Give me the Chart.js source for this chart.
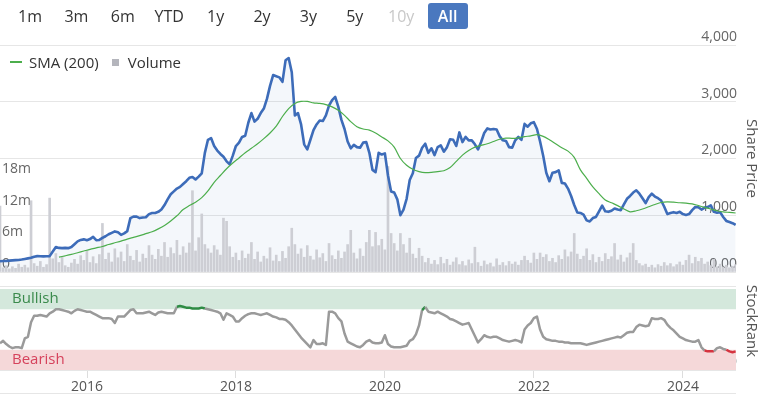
<!DOCTYPE html>
<html>
<head>
<meta charset="utf-8">
<script src="https://cdn.jsdelivr.net/npm/chart.js@4.4.1/dist/chart.umd.min.js"></script>
<style>
  body { margin: 0; background: #fff; font-family: "Open Sans", sans-serif; }
  #wrap { position: relative; width: 763px; height: 395px; overflow: hidden; }
  #chart { position: absolute; left: 0; top: 0; }
  .btn { position: absolute; top: 3px; width: 40px; height: 26px; line-height: 26px;
         text-align: center; font-size: 16px; color: #333; border-radius: 3px; }
  .btn.off { color: #c8c8c8; }
  .btn.on { background: #4a78bf; color: #fff; font-weight: 600; }
  #baseline { position: absolute; left: 0; top: 393px; width: 736px; height: 1px; background: #e6e6e6; }
  #legend { position: absolute; left: 10px; top: 50px; font-size: 15px; color: #333; white-space: nowrap; }
  #legend span { display: inline-block; vertical-align: middle; }
  .lg-line { width: 12px; height: 1.5px; background: #4cae4c; margin-right: 7px; }
  .lg-box { width: 7px; height: 7px; background: #b4b5bc; margin: 2px 9px 0 13px; }
</style>
</head>
<body>
<div id="wrap">
  <canvas id="chart" width="763" height="395"></canvas>
  <div id="baseline"></div>
  <div id="legend"><span class="lg-line"></span><span>SMA (200)</span><span class="lg-box"></span><span>Volume</span></div>
</div>
<script>
/*---------------------------------
   DATA
 ----------------------------------*/
// one point every half month, starting Nov 2014
var startYear = 2014.832;
var xTicks = [2016, 2018, 2020, 2022, 2024];
var priceTicks = [0, 1000, 2000, 3000, 4000];
var volumeTicks = [0, 6, 12, 18];   // millions
var bullishBand = [75, 100];
var bearishBand = [0, 25];
var rangeButtons = ['1m', '3m', '6m', 'YTD', '1y', '2y', '3y', '5y', '10y', 'All'];

var priceValues = [
  190,195,195,200,205,210,212,220,230,240,
  250,270,280,278,275,278,280,360,440,425,
  420,425,420,440,490,540,565,575,560,580,
  620,560,565,600,630,665,690,715,700,655,
  680,720,950,975,975,950,960,965,1020,1040,
  1040,1060,1100,1180,1280,1370,1420,1470,1500,1550,
  1600,1660,1675,1630,1680,1740,2100,2330,2360,2220,
  2140,2080,2030,1950,1900,2050,2220,2280,2380,2400,
  2630,2800,2650,2700,2800,2880,3050,3280,3470,3450,
  3430,3350,3730,3770,3520,2760,2800,2600,2250,2160,
  2330,2500,2600,2670,2660,2760,2930,3030,3085,2910,
  2680,2520,2300,2180,2240,2200,2190,2280,2290,2100,
  1800,1760,2100,2070,2090,1700,1420,1400,1280,1000,
  1100,1290,1620,1740,2010,2050,2190,2260,2100,2180,
  2060,2200,2230,2120,2200,2340,2330,2220,2460,2290,
  2380,2320,2320,2250,2160,2290,2450,2530,2510,2520,
  2510,2390,2320,2310,2200,2190,2320,2380,2330,2610,
  2560,2620,2640,2520,2300,2050,1750,1600,1750,1760,
  1790,1570,1560,1470,1340,1180,1050,1040,1010,910,
  890,950,970,1070,1170,1070,1060,1080,1120,1100,
  1090,1190,1290,1340,1400,1440,1380,1300,1215,1320,
  1380,1330,1300,1260,1150,1020,1040,1055,1040,1060,
  1020,1005,1020,1090,1145,1140,1100,1135,1145,1175,
  1060,1045,1055,970,900,880,860,830
];

// SMA (200): monthly, first value at half-month index 19
var smaStart = 19;
var smaValues = [
  262,285,310,340,370,400,425,450,485,515,
  545,580,610,640,675,710,760,820,900,990,
  1100,1170,1230,1310,1430,1580,1700,1820,1920,2010,
  2100,2180,2260,2350,2450,2570,2740,2880,2970,3005,
  3005,2980,2970,2950,2910,2850,2760,2650,2560,2520,
  2500,2450,2380,2310,2200,2000,1880,1810,1770,1750,
  1755,1770,1785,1840,1950,2060,2140,2200,2230,2260,
  2300,2340,2360,2355,2365,2385,2400,2420,2390,2330,
  2260,2190,2130,2020,1800,1650,1500,1380,1270,1220,
  1170,1110,1060,1080,1110,1150,1190,1225,1235,1230,
  1220,1215,1200,1170,1140,1110,1080,1060,1050,1040
];

var volumeValues = [
  12.5,0.8,1.2,0.6,1.0,0.7,1.5,0.9,1.3,0.8,
  13.5,1.6,1.1,2.0,0.9,1.4,14.0,2.5,3.5,1.8,
  2.8,1.2,0.9,1.7,2.4,1.5,3.1,2.2,4.0,1.8,
  2.9,1.6,3.3,9.2,2.4,3.6,1.9,4.4,2.7,3.8,
  2.0,5.2,3.0,2.2,4.1,1.9,3.4,2.6,5.0,3.2,
  2.4,4.3,3.0,5.6,2.8,4.6,3.5,6.0,3.2,4.8,
  3.6,5.5,15.4,4.0,6.5,11.0,5.2,4.4,3.6,5.0,
  4.2,3.2,10.2,9.6,4.8,2.8,3.6,2.2,4.0,2.6,
  3.4,5.6,2.4,3.8,1.9,3.0,2.5,4.6,2.1,3.2,
  2.0,3.9,2.6,4.8,8.3,5.2,3.4,4.4,2.8,5.0,
  3.0,2.3,4.2,2.7,3.5,2.0,5.4,3.1,2.4,4.0,
  2.6,3.8,5.2,7.9,3.6,2.5,4.4,3.0,5.6,7.9,
  4.8,7.5,5.0,6.2,4.2,20.0,7.3,5.4,4.0,7.3,
  5.2,3.6,6.4,3.4,2.6,4.5,3.0,1.8,2.6,1.5,
  2.2,1.4,2.8,1.6,2.4,1.3,1.9,2.7,1.4,2.0,
  1.2,2.3,1.6,4.7,1.8,1.1,2.1,1.4,1.7,1.0,
  2.5,1.3,1.8,1.2,2.0,1.5,1.9,1.3,2.2,3.0,
  2.2,1.7,3.6,2.4,3.6,2.8,3.3,2.0,2.6,1.8,
  3.1,2.4,4.2,2.9,3.8,7.3,3.4,2.4,3.0,4.4,
  2.2,3.3,1.8,2.8,2.0,3.5,2.4,2.9,5.4,2.3,
  3.2,1.9,2.7,3.6,5.4,2.2,1.6,1.2,1.5,0.9,
  1.3,0.8,1.4,1.1,1.8,1.2,1.6,1.0,1.4,1.9,
  1.3,2.2,3.2,1.6,2.8,2.0,2.6,1.5,1.9,1.2,
  2.4,1.0,1.5,0.9,1.3,0.8,1.1,1.4
];

var rankValues = [
  33,36,32,29,27,28,28,27,39,41,
  59,67,67,68,67,66,70,72,75,75,
  74,73,72,70,73,75,74,73,72,72,
  70,68,66,64,64,64,63,58,66,66,
  66,70,74,75,70,70,70,71,72,70,
  68,71,72,71,70,70,70,78,79,78,
  77,77,76,76,76,77,76,75,74,73,
  72,70,62,70,68,66,60,60,64,67,
  69,70,70,69,68,69,70,68,66,65,
  63,63,62,59,55,50,45,40,36,32,
  28,37,32,32,33,31,72,72,70,64,
  60,45,35,33,31,29,28,31,35,37,
  34,33,33,34,43,32,29,28,28,28,
  29,30,36,38,44,55,74,78,72,71,
  70,72,70,68,66,63,62,60,58,56,
  57,58,50,42,34,38,43,41,40,41,
  41,39,37,36,35,36,37,36,34,50,
  55,58,64,66,50,41,38,37,36,36,
  35,35,34,34,33,33,33,33,32,31,
  32,33,34,35,36,37,38,39,40,41,
  40,43,46,47,47,53,56,55,54,55,
  64,63,63,64,62,56,52,49,45,41,
  39,37,36,35,35,37,28,24,23,23,
  23,27,28,26,25,23,22,23
];

function halfMonth(i) { return startYear + i / 24; }

/*---------------------------------
   BOTONES DE RANGO
 ----------------------------------*/
var wrap = document.getElementById('wrap');
rangeButtons.forEach(function(txt, i) {
    var b = document.createElement('div');
    b.className = 'btn' + (txt === '10y' ? ' off' : '') + (txt === 'All' ? ' on' : '');
    b.style.left = (10 + i * 46.4) + 'px';
    b.textContent = txt;
    wrap.appendChild(b);
});

/*---------------------------------
   BANDAS BULLISH / BEARISH
 ----------------------------------*/
var bandsPlugin = {
    id: 'bands',
    beforeDatasetsDraw: function(chart) {
        var ctx = chart.ctx, area = chart.chartArea, r = chart.scales.rank;
        var w = area.right - area.left;
        var gTop = r.getPixelForValue(bullishBand[1]), gBot = r.getPixelForValue(bullishBand[0]);
        var rTop = r.getPixelForValue(bearishBand[1]), rBot = r.getPixelForValue(bearishBand[0]);
        ctx.save();
        ctx.fillStyle = '#d4e8dc';
        ctx.fillRect(area.left, gTop, w, gBot - gTop);
        ctx.fillStyle = '#f5d8d9';
        ctx.fillRect(area.left, rTop, w, rBot - rTop);
        ctx.font = '15px "Open Sans"';
        ctx.textBaseline = 'middle';
        ctx.fillStyle = '#3a8a4c';
        ctx.fillText('Bullish', area.left + 12, (gTop + gBot) / 2);
        ctx.fillStyle = '#d6425c';
        ctx.fillText('Bearish', area.left + 12, (rTop + rBot) / 2);
        ctx.restore();
    }
};

/*---------------------------------
   CHART
 ----------------------------------*/
var axisFont = { family: '"Open Sans"', size: 14 };

var config = {
    type: 'line',
    data: {
        datasets: [{
            label: 'SMA (200)',
            yAxisID: 'price',
            data: smaValues.map(function(v, k) { return { x: halfMonth(smaStart + 2 * k), y: v }; }),
            borderColor: '#4cae4c',
            borderWidth: 1.2,
            pointRadius: 0,
            tension: 0.3,
            order: 0
        }, {
            label: 'Price',
            yAxisID: 'price',
            data: priceValues.map(function(v, i) { return { x: halfMonth(i), y: v }; }),
            borderColor: '#3d6cb9',
            backgroundColor: 'rgba(61,108,185,0.055)',
            borderWidth: 2.6,
            borderJoinStyle: 'round',
            pointRadius: 0,
            fill: { value: 0 },
            order: 1
        }, {
            type: 'bar',
            label: 'Volume',
            yAxisID: 'vol',
            data: volumeValues.map(function(v, i) { return { x: halfMonth(i), y: v * 1e6 }; }),
            backgroundColor: '#cdced4',
            borderWidth: 0,
            barThickness: 2,
            order: 2
        }, {
            label: 'StockRank',
            yAxisID: 'rank',
            data: rankValues.map(function(v, i) { return { x: halfMonth(i), y: v }; }),
            borderColor: '#9a9a9a',
            borderWidth: 2.5,
            borderJoinStyle: 'round',
            pointRadius: 0,
            segment: {
                borderColor: function(c) {
                    var avg = (c.p0.parsed.y + c.p1.parsed.y) / 2;
                    if (avg > bullishBand[0] + 0.5) return '#2e8b44';
                    if (avg < bearishBand[1]) return '#d5333f';
                    return undefined;
                }
            },
            order: 0
        }]
    },
    options: {
        responsive: false,
        animation: false,
        devicePixelRatio: 1,
        layout: { padding: { top: 45, left: 0, right: 0, bottom: 0 } },
        plugins: {
            filler: { drawTime: 'beforeDatasetsDraw' },
            tooltip: { enabled: false },
            legend: { display: false }
        },
        scales: {
            x: {
                type: 'linear',
                position: 'bottom',
                offset: false,
                min: startYear,
                max: halfMonth(priceValues.length - 1) + 0.005,
                afterBuildTicks: function(s) { s.ticks = xTicks.map(function(v) { return { value: v }; }); },
                afterFit: function(s) { s.height = 25; },
                grid: { drawOnChartArea: false, offset: false, tickLength: 8, color: '#dddddd' },
                border: { display: false },
                ticks: { color: '#555', font: axisFont, padding: 1, callback: function(v) { return String(v); } }
            },
            price: {
                type: 'linear',
                position: 'right',
                stack: 'right',
                stackWeight: 227,
                min: 0,
                max: 4000,
                afterBuildTicks: function(s) { s.ticks = priceTicks.map(function(v) { return { value: v }; }); },
                afterFit: function(s) { s.width = 27; },
                grid: { color: '#e6e6e6', drawTicks: false },
                border: { display: false },
                ticks: {
                    mirror: true, padding: 1, labelOffset: -8, color: '#666', font: axisFont,
                    callback: function(v) { return v === 0 ? '0.00' : v.toLocaleString('en-US'); }
                },
                title: { display: true, text: 'Share Price', color: '#555', font: { family: '"Open Sans"', size: 15 }, padding: { top: 3, bottom: 0 } }
            },
            rank: {
                type: 'linear',
                position: 'right',
                stack: 'right',
                stackWeight: 98,
                min: 0,
                max: 121,
                afterBuildTicks: function(s) { s.ticks = [{ value: 0 }, { value: 102.5 }]; },
                afterFit: function(s) { s.width = 27; },
                grid: { color: '#e6e6e6', drawTicks: false },
                border: { display: false },
                ticks: {
                    mirror: true, padding: 1, labelOffset: -8, color: '#666', font: axisFont,
                    callback: function(v) { return v === 0 ? '0' : ''; }
                },
                title: { display: true, text: 'StockRank', color: '#555', font: { family: '"Open Sans"', size: 15 }, padding: { top: 3, bottom: 0 } }
            },
            vol: {
                type: 'linear',
                position: 'left',
                min: -18.56e6,
                max: 43e6,
                afterBuildTicks: function(s) { s.ticks = volumeTicks.map(function(v) { return { value: v * 1e6 }; }); },
                afterFit: function(s) { s.width = 0; },
                grid: { drawOnChartArea: false, drawTicks: false },
                border: { display: false },
                ticks: {
                    mirror: true, padding: 2, labelOffset: -8, color: '#666', font: axisFont,
                    callback: function(v) { return v === 0 ? '0' : (v / 1e6) + 'm'; }
                }
            }
        }
    },
    plugins: [bandsPlugin]
};

window.onload = function() {
    var ctx = document.getElementById('chart').getContext('2d');
    window.myChart = new Chart(ctx, config);
};
</script>
</body>
</html>
